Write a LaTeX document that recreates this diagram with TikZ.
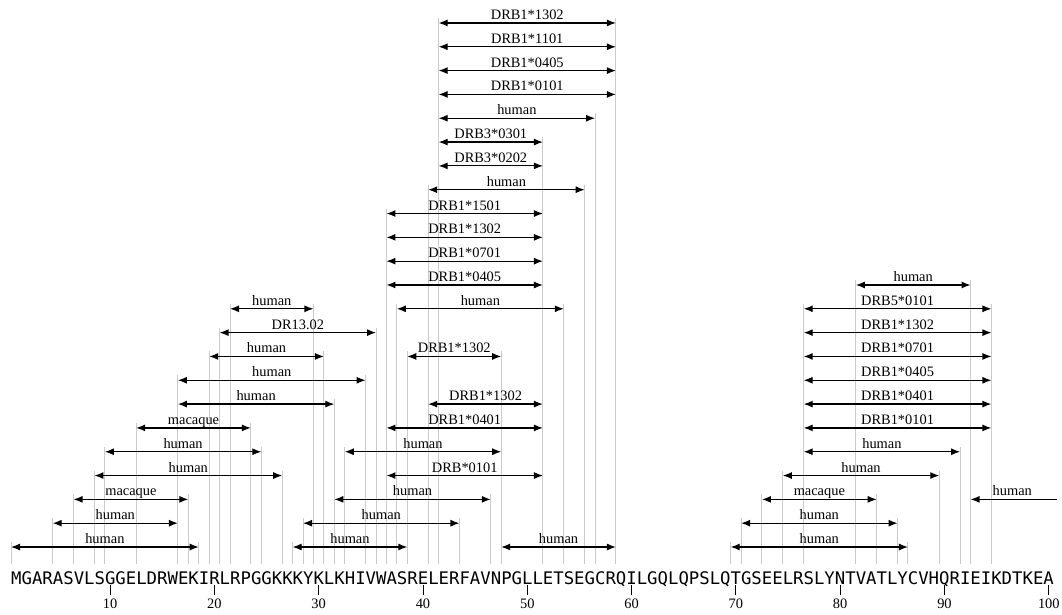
\documentclass[tikz,border=0pt]{standalone}
\usepackage{fontspec}
\setmainfont{Liberation Serif}
\newfontfamily\seqfont{DejaVu Sans Mono}
\usetikzlibrary{arrows.meta}

\tikzset{
  guide/.style={gray!40,line width=1pt},
  span/.style={line width=1.2pt,{Latex[length=9pt,width=7pt]}-{Latex[length=9pt,width=7pt]}},
  openspan/.style={line width=1.2pt,{Latex[length=9pt,width=7pt]}-},
  lbl/.style={font=\fontsize{14.4}{16}\selectfont,inner sep=0pt,anchor=base,yshift=3.5pt},
  num/.style={font=\fontsize{14.4}{16}\selectfont,inner sep=0pt,below=3pt},
  tick/.style={line width=0.9pt},
}

% row / first boundary / last boundary / label
\def\spans{0/0/18/human, 0/27/38/human, 0/47/58/human, 0/69/86/human,
  1/4/16/human, 1/28/43/human, 1/70/85/human,
  2/6/17/macaque, 2/31/46/human, 2/72/83/macaque,
  3/8/26/human, 3/36/51/DRB*0101, 3/74/89/human,
  4/9/24/human, 4/32/47/human, 4/76/91/human,
  5/12/23/macaque, 5/36/51/DRB1*0401, 5/76/94/DRB1*0101,
  6/16/31/human, 6/40/51/DRB1*1302, 6/76/94/DRB1*0401,
  7/16/34/human, 7/76/94/DRB1*0405,
  8/19/30/human, 8/38/47/DRB1*1302, 8/76/94/DRB1*0701,
  9/20/35/DR13.02, 9/76/94/DRB1*1302,
  10/21/29/human, 10/37/53/human, 10/76/94/DRB5*0101,
  11/36/51/DRB1*0405, 11/81/92/human,
  12/36/51/DRB1*0701, 13/36/51/DRB1*1302, 14/36/51/DRB1*1501,
  15/40/55/human, 16/41/51/DRB3*0202, 17/41/51/DRB3*0301,
  18/41/56/human, 19/41/58/DRB1*0101, 20/41/58/DRB1*0405,
  21/41/58/DRB1*1101, 22/41/58/DRB1*1302}

\begin{document}
\begin{tikzpicture}[x=1pt,y=-1pt]
\useasboundingbox (0,0) rectangle (1062,614);

% grey guides first
\foreach \r/\a/\b/\t in \spans {
  \pgfmathsetmacro\yy{547-23.82*\r}
  \draw[guide] ({11+10.43*\a},\yy-5) -- ({11+10.43*\a},564)
               ({11+10.43*\b},\yy-5) -- ({11+10.43*\b},564);
}

% epitope spans
\foreach \r/\a/\b/\t [count=\i] in \spans {
  \pgfmathsetmacro\yy{547-23.82*\r}
  \coordinate (p\i a) at ({11+10.43*\a},\yy);
  \coordinate (p\i b) at ({11+10.43*\b},\yy);
  \draw[span] (p\i a) -- node[lbl] (t\i) {\t} (p\i b);
}

% span running off the right edge
\coordinate (oa) at ({11+10.43*92},499.36);
\coordinate (ob) at (1057,499.36);
\draw[openspan] (oa) -- (ob);
\node[lbl] (ot) at ({11+10.43*96},499.36) {human};

% sequence and ruler
\node[font=\seqfont\fontsize{17.32}{20}\selectfont,inner sep=0pt,anchor=base west] (seq) at (11,584)
  {MGARASVLSGGELDRWEKIRLRPGGKKKYKLKHIVWASRELERFAVNPGLLETSEGCRQILGQLQPSLQTGSEELRSLYNTVATLYCVHQRIEIKDTKEA};
\foreach \n in {10,20,...,100} {
  \coordinate (k\n) at ({11+10.43*(\n-0.5)},585);
  \draw[tick] (k\n) -- ++(0,10) node[num] (n\n) {\n};
}
\end{tikzpicture}
\end{document}
